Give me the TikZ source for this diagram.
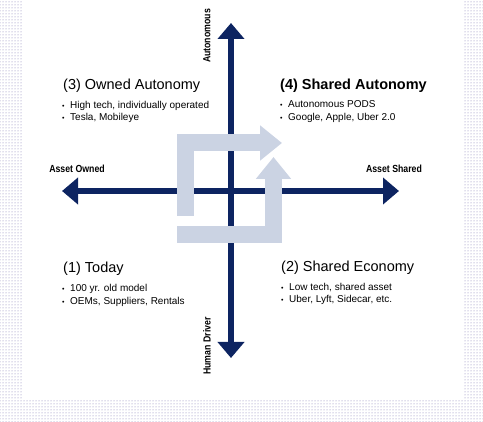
\documentclass[tikz,border=0pt]{standalone}
\usepackage{fontspec}
\setmainfont{Liberation Sans}
\newfontfamily\narrowsans[FakeStretch=0.85]{Liberation Sans}
\usetikzlibrary{arrows.meta,patterns}
\definecolor{navy}{HTML}{0D2461}
\definecolor{paleblue}{HTML}{CBD3E3}
\definecolor{dotcol}{HTML}{7E74B0}
\tikzset{
  axis/.style={navy, line width=6.5pt, -{Triangle[width=26pt,length=16pt]}},
  turn/.style={paleblue, line width=17pt, line join=miter, -{Triangle[width=34pt,length=22pt]}},
  title/.style={anchor=base west, inner sep=0pt, font=\fontsize{14.5}{17}\selectfont},
  item/.style={anchor=base west, inner sep=0pt, font=\fontsize{10}{12}\selectfont},
  axlabel/.style={inner sep=0pt, font=\narrowsans\bfseries\fontsize{10.3}{12}\selectfont}
}
\newcommand{\bul}{\makebox[8pt][l]{\raisebox{0.5pt}{\scriptsize\textbullet}}}
\begin{document}
\begin{tikzpicture}[x=1pt,y=-1pt]
        \useasboundingbox (0,0) rectangle (483,422);

        % Dotted frame
        \fill[pattern=dots, pattern color=dotcol] (0,0) rectangle (22,422);
        \fill[pattern=dots, pattern color=dotcol] (463,0) rectangle (483,422);
        \fill[pattern=dots, pattern color=dotcol] (22,400) rectangle (463,422);

        % Axes
        \coordinate (o) at (231,191);
        \coordinate (n) at (231,23);
        \coordinate (s) at (231,358);
        \coordinate (w) at (62,191);
        \coordinate (e) at (399,191);
        \draw[axis] (o) -- (n);
        \draw[axis] (o) -- (s);
        \draw[axis] (o) -- (w);
        \draw[axis] (o) -- (e);

        % Axis labels
        \node[axlabel, rotate=90] (autlab) at (207,36) {Autonomous};
        \node[axlabel, rotate=90] (humlab) at (207,346) {Human Driver};
        \node[axlabel] (ownlab) at (77,169) {Asset Owned};
        \node[axlabel] (shrlab) at (394,169) {Asset Shared};

        % Turning arrows
        \coordinate (ua) at (185,216);
        \coordinate (ub) at (185,143);
        \coordinate (uc) at (282,143);
        \coordinate (la) at (177,234.5);
        \coordinate (lb) at (273.5,234.5);
        \coordinate (lc) at (273.5,157);
        \draw[turn] (ua) -- (ub) -- (uc);
        \draw[turn] (la) -- (lb) -- (lc);

        % Quadrants
        \node[title] (q3) at (63,90) {(3) Owned Autonomy};
        \node[item] (q3a) at (62,109) {\bul High tech, individually operated};
        \node[item] (q3b) at (62,121) {\bul Tesla, Mobileye};

        \node[title, font=\bfseries\fontsize{14.5}{17}\selectfont] (q4) at (280,90) {(4) Shared Autonomy};
        \node[item] (q4a) at (280,108) {\bul Autonomous PODS};
        \node[item] (q4b) at (280,121) {\bul Google, Apple, Uber 2.0};

        \node[title] (q1) at (63,273) {(1) Today};
        \node[item] (q1a) at (62,292) {\bul 100 yr. old model};
        \node[item] (q1b) at (62,305) {\bul OEMs, Suppliers, Rentals};

        \node[title] (q2) at (281,272) {(2) Shared Economy};
        \node[item] (q2a) at (281,291) {\bul Low tech, shared asset};
        \node[item] (q2b) at (281,303) {\bul Uber, Lyft, Sidecar, etc.};
\end{tikzpicture}
\end{document}
